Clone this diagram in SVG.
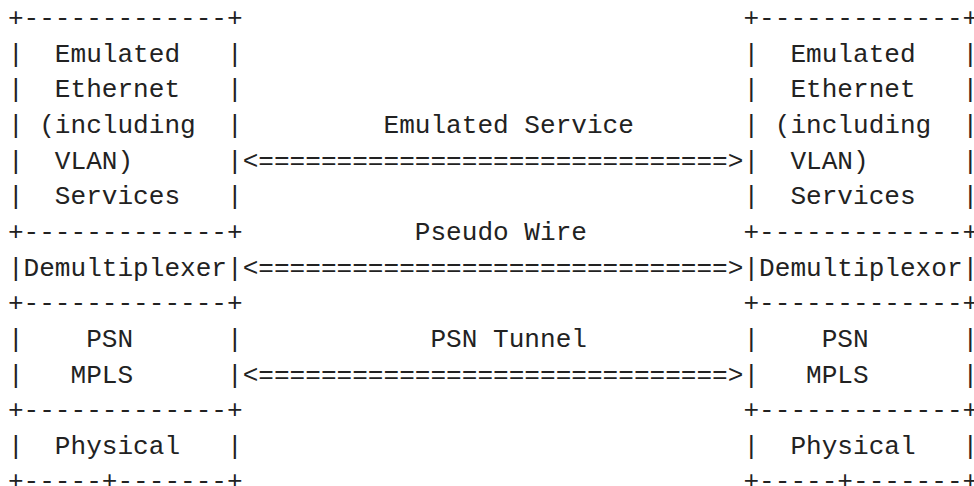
<svg xmlns="http://www.w3.org/2000/svg" width="974" height="486" viewBox="0 0 974 486">
<style>
text{font-family:"Liberation Mono","DejaVu Sans Mono",monospace;font-size:26.08px;fill:#222;white-space:pre}
</style>
<rect width="974" height="486" fill="#fff"/>
<g id="left-stack" xml:space="preserve">
<text x="7.9" y="26">+-------------+</text>
<text x="7.9" y="61.65">|  Emulated   |</text>
<text x="7.9" y="97.3">|  Ethernet   |</text>
<text x="7.9" y="132.95">| (including  |</text>
<text x="7.9" y="168.6">|  VLAN)      |</text>
<text x="7.9" y="204.25">|  Services   |</text>
<text x="7.9" y="239.9">+-------------+</text>
<text x="7.9" y="275.55">|Demultiplexer|</text>
<text x="7.9" y="311.2">+-------------+</text>
<text x="7.9" y="346.85">|    PSN      |</text>
<text x="7.9" y="382.5">|   MPLS      |</text>
<text x="7.9" y="418.15">+-------------+</text>
<text x="7.9" y="453.8">|  Physical   |</text>
<text x="7.9" y="489.45">+-----+-------+</text>
</g>
<g id="right-stack" xml:space="preserve">
<text x="743.45" y="26">+-------------+</text>
<text x="743.45" y="61.65">|  Emulated   |</text>
<text x="743.45" y="97.3">|  Ethernet   |</text>
<text x="743.45" y="132.95">| (including  |</text>
<text x="743.45" y="168.6">|  VLAN)      |</text>
<text x="743.45" y="204.25">|  Services   |</text>
<text x="743.45" y="239.9">+-------------+</text>
<text x="743.45" y="275.55">|Demultiplexor|</text>
<text x="743.45" y="311.2">+-------------+</text>
<text x="743.45" y="346.85">|    PSN      |</text>
<text x="743.45" y="382.5">|   MPLS      |</text>
<text x="743.45" y="418.15">+-------------+</text>
<text x="743.45" y="453.8">|  Physical   |</text>
<text x="743.45" y="489.45">+-----+-------+</text>
</g>
<g id="connectors" xml:space="preserve">
<text x="383.5" y="132.95">Emulated Service</text>
<text x="242.65" y="168.6">&lt;==============================&gt;</text>
<text x="414.8" y="239.9">Pseudo Wire</text>
<text x="242.65" y="275.55">&lt;==============================&gt;</text>
<text x="430.45" y="346.85">PSN Tunnel</text>
<text x="242.65" y="382.5">&lt;==============================&gt;</text>
</g>
</svg>
